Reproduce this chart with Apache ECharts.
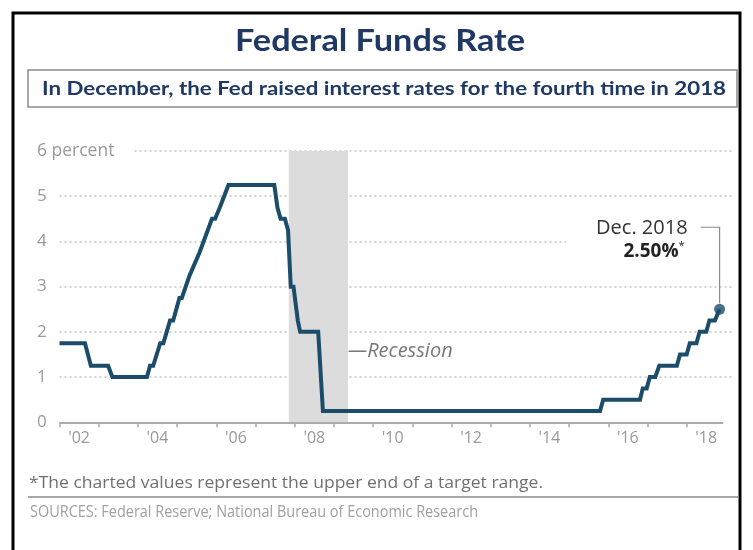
<!DOCTYPE html>
<html>
<head>
<meta charset="utf-8">
<script src="https://cdn.jsdelivr.net/npm/echarts@6/dist/echarts.min.js"></script>
<style>
html,body{margin:0;padding:0;background:#fff;}
#chart{width:753px;height:550px;}
</style>
</head>
<body>
<div id="chart"></div>
<script>
// ---- data ----
const titleText = 'Federal Funds Rate';
const subtitleText = 'In December, the Fed raised interest rates for the fourth time in 2018';
const footnoteText = '*The charted values represent the upper end of a target range.';
const sourcesText = 'SOURCES: Federal Reserve; National Bureau of Economic Research';
const calloutDate = 'Dec. 2018';
const calloutValue = '2.50%';
const recessionLabel = '\u2014Recession';

// decimal-year positions of the step corners, and the rate (percent) at each
const rateDates = [2002.00, 2002.65, 2002.80, 2003.24, 2003.35, 2004.23, 2004.31, 2004.39, 2004.57, 2004.65,
  2004.82, 2004.90, 2005.06, 2005.12, 2005.32, 2005.37, 2005.57, 2005.62, 2005.89, 2005.97,
  2006.09, 2006.14, 2006.31, 2007.48, 2007.56, 2007.64, 2007.75, 2007.83, 2007.90, 2007.97,
  2008.08, 2008.14, 2008.60, 2008.72, 2015.79, 2015.87, 2016.81, 2016.88, 2016.98, 2017.06,
  2017.20, 2017.30, 2017.75, 2017.83, 2018.00, 2018.08, 2018.25, 2018.33, 2018.50, 2018.58,
  2018.72, 2018.84];
const rateValues = [1.75, 1.75, 1.25, 1.25, 1.00, 1.00, 1.25, 1.25, 1.75, 1.75,
  2.25, 2.25, 2.75, 2.75, 3.25, 3.25, 3.75, 3.75, 4.50, 4.50,
  4.75, 4.75, 5.25, 5.25, 4.75, 4.50, 4.50, 4.25, 3.00, 3.00,
  2.25, 2.00, 2.00, 0.25, 0.25, 0.50, 0.50, 0.75, 0.75, 1.00,
  1.00, 1.25, 1.25, 1.50, 1.50, 1.75, 1.75, 2.00, 2.00, 2.25,
  2.25, 2.50];
const recessionStart = 2007.85;
const recessionEnd = 2009.36;

const xTickYears = [2002, 2003, 2004, 2005, 2006, 2007, 2008, 2009, 2010, 2011, 2012, 2013, 2014, 2015, 2016, 2017, 2018];
const xLabelYears = [2002, 2004, 2006, 2008, 2010, 2012, 2014, 2016, 2018];
const xTickLabels = ["'02", "'04", "'06", "'08", "'10", "'12", "'14", "'16", "'18"];
const yTickLabels = ['0', '1', '2', '3', '4', '5', '6 percent'];
const xMin = 2002, xMax = 2019.2, axisEnd = 2018.93;

// ---- chart ----
const LINE = '#1b4c6a';
const NAVY = '#1f3864';
const chart = echarts.init(document.getElementById('chart'), null, {renderer: 'canvas'});

const rateData = rateDates.map((d, i) => [d, rateValues[i]]);
const last = rateData[rateData.length - 1];
// labels sit in the middle of each labelled year
const labelPositions = xLabelYears.map(y => y + 0.5);

// horizontal scale so a text run fills the width it has in the reference
const ctx = document.createElement('canvas').getContext('2d');
function fitScale(text, font, width) { ctx.font = font; return width / ctx.measureText(text).width; }

const option = {
  animation: false,
  textStyle: {fontFamily: 'Open Sans'},
  grid: {left: 59.5, right: 19.3, top: 151, bottom: 127.7, containLabel: false},
  xAxis: {
    type: 'value', min: xMin, max: xMax,
    axisLine: {show: false},
    splitLine: {show: false},
    axisTick: {show: true, customValues: xTickYears, length: 5, lineStyle: {color: '#aaaaaa', width: 1.5}},
    axisLabel: {
      customValues: labelPositions,
      margin: 8,
      color: '#9a9a9a', fontSize: 16, fontFamily: 'Open Sans',
      formatter: v => xTickLabels[labelPositions.findIndex(p => Math.abs(p - v) < 1e-6)] || ''
    }
  },
  yAxis: {
    type: 'value', min: 0, max: 6, interval: 1,
    axisLine: {show: false}, axisTick: {show: false},
    splitLine: {show: true, showMinLine: false, lineStyle: {color: '#c4c4c4', width: 1.5, type: [2, 3]}},
    axisLabel: {
      align: 'left', margin: 22.5, color: '#9a9a9a', fontSize: 17, fontFamily: 'Open Sans',
      formatter: v => v === 6 ? '{p|' + yTickLabels[v] + '}' : yTickLabels[v],
      rich: {p: {backgroundColor: '#ffffff', padding: [3, 18, 3, 0], color: '#9a9a9a', fontSize: 17.5, fontFamily: 'Open Sans'}}
    }
  },
  series: [
    {
      name: 'recession', type: 'line', data: [], z: -1, silent: true,
      markArea: {
        silent: true,
        itemStyle: {color: '#dcdcdc'},
        label: {
          show: true, position: ['100%', '74%'], align: 'left', verticalAlign: 'middle',
          formatter: recessionLabel, color: '#777777', fontStyle: 'italic', fontSize: 20, fontFamily: 'Open Sans'
        },
        data: [[{xAxis: recessionStart, yAxis: 0}, {xAxis: recessionEnd, yAxis: 6}]]
      }
    },
    {
      name: 'rate', type: 'line', data: rateData, showSymbol: false, symbol: 'none', z: 3,
      lineStyle: {color: LINE, width: 4, join: 'miter'},
      markLine: {
        silent: true, symbol: ['none', 'none'], label: {show: false},
        lineStyle: {color: '#aaaaaa', width: 1.8, type: 'solid'},
        data: [[{coord: [xMin, 0]}, {coord: [axisEnd, 0]}]]
      }
    },
    {
      name: 'latest', type: 'scatter', data: [last], symbolSize: 11, z: 4,
      itemStyle: {color: LINE}
    }
  ]
};
chart.setOption(option);

// callout + page furniture
const p = chart.convertToPixel({gridIndex: 0}, last);
const g4 = chart.convertToPixel({gridIndex: 0}, [xMax, 4]);
const titleFont = 'bold 30px Lato';
const subFont = 'bold 19px Lato';
const footFont = '16.5px "Open Sans"';
const srcFont = '16px "Open Sans"';
chart.setOption({
  graphic: [
    {type: 'rect', z: 10, shape: {x: 13, y: 13, width: 727, height: 600}, style: {fill: 'none', stroke: '#000', lineWidth: 3}},
    {type: 'text', z: 10, x: 380, y: 41, scaleX: fitScale(titleText, titleFont, 290),
      style: {text: titleText, fill: NAVY, font: titleFont, align: 'center', verticalAlign: 'middle'}},
    {type: 'rect', z: 10, shape: {x: 28, y: 70, width: 709, height: 37}, style: {fill: 'none', stroke: '#8a8a8a', lineWidth: 1.5}},
    {type: 'text', z: 10, x: 384, y: 89, scaleX: fitScale(subtitleText, subFont, 684),
      style: {text: subtitleText, fill: NAVY, font: subFont, align: 'center', verticalAlign: 'middle'}},
    // gap in the 4% grid line behind the callout text
    {type: 'rect', z: 1, shape: {x: 566, y: g4[1] - 3, width: g4[0] - 566 + 2, height: 6}, style: {fill: '#fff'}},
    {type: 'text', z: 10, x: p[0] - 32, y: p[1] - 81, style: {text: calloutDate, fill: '#333', font: '20px "Open Sans"', align: 'right', verticalAlign: 'middle'}},
    {type: 'text', z: 10, x: p[0] - 41, y: p[1] - 58, style: {text: calloutValue, fill: '#222', font: 'bold 19px "Open Sans"', align: 'right', verticalAlign: 'middle'}},
    {type: 'text', z: 10, x: p[0] - 41, y: p[1] - 63, style: {text: '*', fill: '#222', font: '11px "Open Sans"', align: 'left', verticalAlign: 'middle'}},
    {type: 'polyline', z: 10, shape: {points: [[p[0] - 19, p[1] - 82], [p[0], p[1] - 82], [p[0], p[1] - 6]]}, style: {stroke: '#8a8a8a', lineWidth: 1.2, fill: 'none'}},
    {type: 'text', z: 10, x: 29, y: 483, scaleX: fitScale(footnoteText, footFont, 514),
      style: {text: footnoteText, fill: '#707070', font: footFont, align: 'left', verticalAlign: 'middle'}},
    {type: 'line', z: 10, shape: {x1: 28, y1: 497, x2: 738, y2: 497}, style: {stroke: '#a8a8a8', lineWidth: 2}},
    {type: 'text', z: 10, x: 30, y: 512, scaleX: fitScale(sourcesText, srcFont, 448),
      style: {text: sourcesText, fill: '#a0a0a0', font: srcFont, align: 'left', verticalAlign: 'middle'}}
  ]
});
</script>
</body>
</html>
